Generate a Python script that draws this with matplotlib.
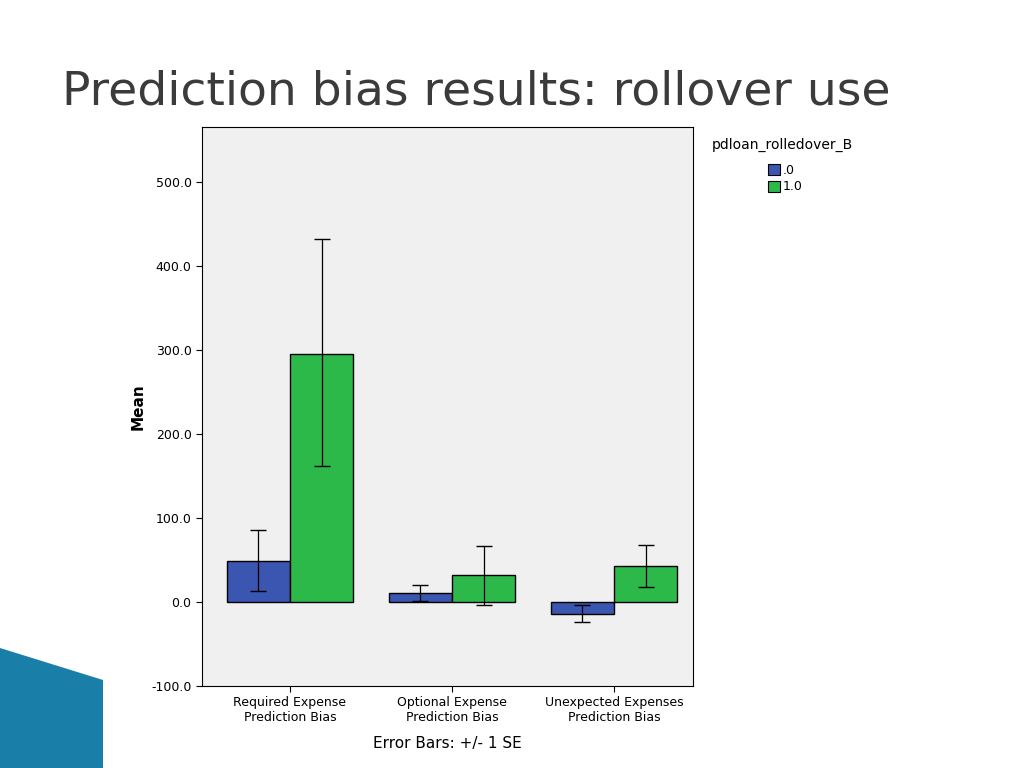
import matplotlib.pyplot as plt
import numpy as np
from matplotlib.patches import Polygon

categories = ['Required Expense\nPrediction Bias', 'Optional Expense\nPrediction Bias',
              'Unexpected Expenses\nPrediction Bias']
means0 = [49, 11, -14]
lo0 = [13, 1, -24]
hi0 = [86, 20, -4]
means1 = [296, 32, 43]
lo1 = [162, -4, 18]
hi1 = [432, 67, 68]
yticks = [-100, 0, 100, 200, 300, 400, 500]

fig = plt.figure(figsize=(10.24, 7.68), dpi=100)
ax = fig.add_axes([202/1024, 1-686/768, (693-202)/1024, (686-127)/768])
ax.set_facecolor('#f0f0f0')

x = np.arange(len(categories))
w = 0.39
m0 = np.array(means0); m1 = np.array(means1)
ax.bar(x - w/2, m0, w, color='#3a56b0', edgecolor='black', linewidth=1, zorder=2)
ax.bar(x + w/2, m1, w, color='#2db84a', edgecolor='black', linewidth=1, zorder=2)
ax.errorbar(x - w/2, m0, yerr=[m0 - np.array(lo0), np.array(hi0) - m0], fmt='none',
            ecolor='black', elinewidth=0.9, capsize=6, zorder=3)
ax.errorbar(x + w/2, m1, yerr=[m1 - np.array(lo1), np.array(hi1) - m1], fmt='none',
            ecolor='black', elinewidth=0.9, capsize=6, zorder=3)

ax.set_xlim(-0.543, 2.488)
ax.set_ylim(-100, 566)
ax.set_yticks(yticks)
ax.set_yticklabels([f'{v:.1f}' for v in yticks], fontsize=9)
ax.set_xticks(x)
ax.set_xticklabels(categories, fontsize=9)
ax.tick_params(direction='out', length=4)
ax.set_ylabel('Mean', fontsize=11, fontweight='bold')
ax.set_xlabel('Error Bars: +/- 1 SE', fontsize=11, labelpad=8)

fig.text(62/1024, 1-92/768, 'Prediction bias results: rollover use', fontsize=34,
         color='#3b3b3b', va='center', family='DejaVu Sans')

fig.text(712/1024, 1-145/768, 'pdloan_rolledover_B', fontsize=10, va='center')
for i, (lab, col) in enumerate([('.0', '#3a56b0'), ('1.0', '#2db84a')]):
    yy = 1 - (170 + i*17)/768
    fig.patches.append(plt.Rectangle((768/1024, yy - 5/768), 12/1024, 11/768,
                                     transform=fig.transFigure, facecolor=col,
                                     edgecolor='black', linewidth=0.8))
    fig.text(783/1024, yy, lab, fontsize=9, va='center')

fig.patches.append(Polygon([(0, 1-648/768), (0, 0), (103/1024, 0), (103/1024, 1-680/768)],
                           closed=True, transform=fig.transFigure,
                           facecolor='#1a7fa8', edgecolor='none'))

fig.savefig('out.png')
